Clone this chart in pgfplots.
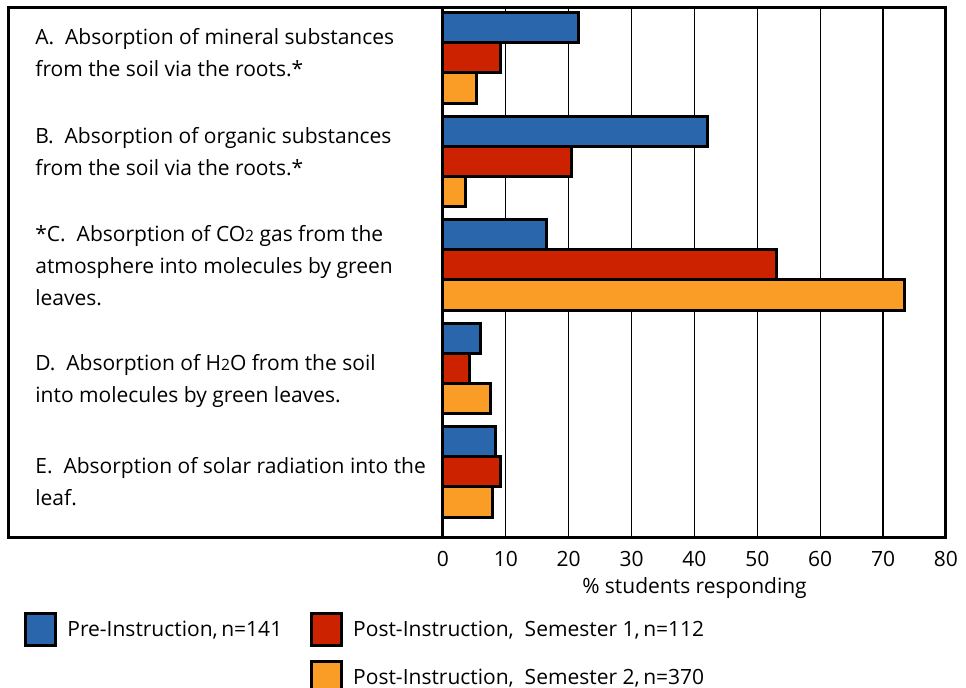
\documentclass[border=0pt]{standalone}
\usepackage{pgfplots}
\pgfplotsset{compat=1.18}
\usepackage{fontspec}
\setmainfont{Open Sans}
\definecolor{cblue}{HTML}{2966AB}
\definecolor{cred}{HTML}{CC2200}
\definecolor{corange}{HTML}{F99D27}
\newcommand{\lbl}{\fontsize{10.5}{16}\selectfont}
\newcommand{\sub}[1]{{\fontsize{7.8}{8}\selectfont #1}}
\pgfplotsset{sqlegend/.style={legend image code/.code={\draw[##1, line width=1.5pt] (0pt,-8pt) rectangle (15pt,8pt);}}}
\begin{document}
\begin{tikzpicture}
\useasboundingbox (-221.5pt,-75pt) rectangle (261.5pt,269pt);
\begin{axis}[
  at={(0,0)}, anchor=south west,
  scale only axis, width=251.5pt, height=265pt,
  xmin=0, xmax=80, ymin=-0.4831, ymax=4.6377,
  y dir=reverse,
  xbar, bar width=0.29,
  xtick={0,10,...,80},
  ytick={-0.048,0.908,2.01,3.12,4.097},
  yticklabels={
    {A.~ Absorption of mineral substances\\from the soil via the roots.*},
    {B.~ Absorption of organic substances\\from the soil via the roots.*},
    {*C.~ Absorption of CO\sub{2} gas from the\\atmosphere into molecules by green\\leaves.},
    {D.~ Absorption of H\sub{2}O from the soil\\into molecules by green leaves.},
    {E.~ Absorption of solar radiation into the\\leaf.}},
  yticklabel style={anchor=west, align=left, inner sep=0pt, xshift=-204pt, font=\lbl},
  xticklabel style={anchor=base, yshift=-14.5pt, font=\lbl},
  /pgf/number format/assume math mode=true,
  major tick length=0pt,
  xmajorgrids, grid style={black, line width=0.6pt},
  axis line style={line width=1.5pt},
  xlabel={\% students responding},
  xlabel style={at={(axis description cs:0.5,0)}, anchor=base, yshift=-28pt, font=\lbl},
  legend columns=2,
  legend cell align=left,
  legend style={at={(axis description cs:-0.833,-0.1396)}, anchor=north west,
    draw=none, fill=none, inner sep=0pt, row sep=6.5pt, font=\lbl,
    /tikz/every even column/.append style={column sep=12pt},
    /tikz/every odd column/.append style={column sep=3pt}},
  clip=false,
]
\addplot[fill=cblue, draw=black, line width=1.5pt, bar shift=-0.29, sqlegend]
  coordinates {(21.5,0) (42.0,1) (16.4,2) (6.0,3) (8.4,4)};
\addlegendentry{Pre-Instruction,\,n=141}
\addplot[fill=cred, draw=black, line width=1.5pt, bar shift=0, sqlegend]
  coordinates {(9.1,0) (20.5,1) (53.0,2) (4.2,3) (9.2,4)};
\addlegendentry{Post-Instruction,~ Semester 1,\,n=112}
\addlegendimage{empty legend}
\addlegendentry{}
\addplot[fill=corange, draw=black, line width=1.5pt, bar shift=0.29, sqlegend]
  coordinates {(5.4,0) (3.6,1) (73.4,2) (7.6,3) (7.8,4)};
\addlegendentry{Post-Instruction,~ Semester 2,\,n=370}
\draw[line width=1.5pt] (rel axis cs:-0.8648,0) rectangle (rel axis cs:1,1);
\end{axis}
\end{tikzpicture}
\end{document}
